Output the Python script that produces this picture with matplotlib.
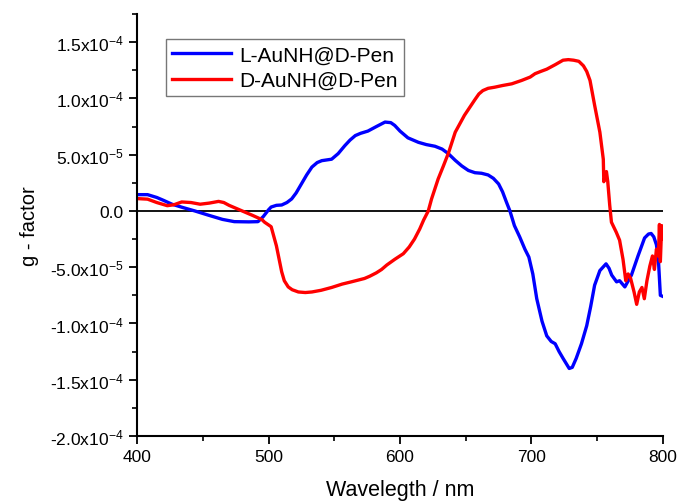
import numpy as np
import matplotlib
matplotlib.use("Agg")
import matplotlib.pyplot as plt
from matplotlib.ticker import MultipleLocator, FixedLocator

plt.rcParams['font.family'] = ['Liberation Sans', 'DejaVu Sans']
plt.rcParams['mathtext.fontset'] = 'custom'
plt.rcParams['mathtext.rm'] = 'Liberation Sans'
plt.rcParams['mathtext.it'] = 'Liberation Sans'

# L-AuNH@D-Pen (blue), g-factor in units of 1e-5
wl_L = [400, 408, 415, 420, 426.6, 435, 444, 455, 465, 474, 485, 492, 496, 500,
        502, 506, 510, 514, 517.6, 521, 525, 529, 533, 537, 540.5, 548, 553, 558,
        562, 566, 570, 575.6, 582, 588.6, 593, 596, 600, 603, 606, 610, 614, 620,
        626.6, 632, 636.7, 642, 647, 652, 657, 662, 667, 671, 675, 678, 681,
        683.6, 687, 691, 695, 698, 701, 704, 708, 711.6, 715, 718, 721, 724, 728.7,
        731, 734, 738, 742, 745, 748, 752, 756.7, 759, 761, 764.7, 767, 771,
        776, 781, 786, 789, 791, 793, 795, 796.5, 798, 800]
g_L = [1.45, 1.45, 1.2, 0.95, 0.6, 0.3, 0.0, -0.4, -0.75, -0.95, -0.97, -0.95, -0.5, 0.1,
       0.35, 0.5, 0.53, 0.75, 1.07, 1.6, 2.4, 3.2, 3.9, 4.3, 4.47, 4.6, 5.1, 5.8,
       6.3, 6.7, 6.9, 7.1, 7.5, 7.9, 7.85, 7.6, 7.1, 6.8, 6.5, 6.3, 6.1, 5.9,
       5.75, 5.5, 5.1, 4.5, 4.0, 3.6, 3.4, 3.35, 3.2, 2.9, 2.4, 1.7, 0.77,
       0.0, -1.3, -2.3, -3.4, -4.1, -5.6, -7.8, -9.8, -11.1, -11.6, -11.8, -12.5, -13.1, -14.0,
       -13.9, -13.1, -11.8, -10.2, -8.5, -6.6, -5.3, -4.7, -5.1, -5.7, -6.3, -6.2, -6.75,
       -5.7, -4.0, -2.4, -2.05, -2.0, -2.3, -3.0, -4.3, -7.5, -7.6]

# D-AuNH@D-Pen (red), g-factor in units of 1e-5
wl_D = [400, 408, 415, 423, 428, 434, 441, 448, 455, 462, 466, 470, 475, 480, 488,
        495, 497, 502, 506, 510, 512, 515, 518, 522.7, 528, 533, 540, 548, 556,
        563, 568, 573, 577, 582, 586, 590, 596, 602.5, 607, 611, 615, 618, 621.5,
        624, 629, 633, 637, 642, 649, 653, 657, 660, 663, 667, 672, 678, 685,
        692.5, 699, 702.7, 707, 711.6, 718, 724, 728, 732, 736, 739.5, 742, 744.5,
        748, 752, 754.6, 755, 757, 758, 759.5, 760.8, 764.5, 767, 769.6, 771.7,
        773.5, 775.4, 778, 780, 782, 784, 785.8, 787.8, 790, 792, 793.5, 795,
        796.5, 797.3, 798, 799, 800]
g_D = [1.1, 1.05, 0.75, 0.47, 0.55, 0.8, 0.75, 0.6, 0.7, 0.85, 0.75, 0.5, 0.25, 0.0, -0.4,
       -0.77, -1.0, -1.4, -3.1, -5.4, -6.2, -6.75, -7.0, -7.2, -7.25, -7.2, -7.05, -6.8, -6.5,
       -6.3, -6.15, -6.0, -5.8, -5.5, -5.2, -4.8, -4.3, -3.8, -3.2, -2.5, -1.6, -0.8, 0.0,
       1.07, 2.84, 4.0, 5.2, 7.0, 8.5, 9.2, 9.9, 10.4, 10.7, 10.9, 11.0, 11.15, 11.3,
       11.6, 11.9, 12.2, 12.4, 12.6, 13.0, 13.4, 13.45, 13.4, 13.3, 12.9, 12.4, 11.6,
       9.4, 7.0, 4.6, 2.6, 3.5, 2.6, 0.5, -1.0, -1.9, -2.6, -4.3, -6.2,
       -5.6, -6.0, -7.2, -8.3, -7.2, -6.8, -7.8, -6.2, -4.9, -4.0, -5.2, -3.4,
       -4.0, -1.2, -4.5, -1.3, -2.5]

ytick_vals = [-2.0e-4, -1.5e-4, -1.0e-4, -5.0e-5, 0.0, 5.0e-5, 1.0e-4, 1.5e-4]
ytick_labels = [r'-2.0x10$^{-4}$', r'-1.5x10$^{-4}$', r'-1.0x10$^{-4}$', r'-5.0x10$^{-5}$',
                '0.0', r'5.0x10$^{-5}$', r'1.0x10$^{-4}$', r'1.5x10$^{-4}$']

fig = plt.figure(figsize=(6.77, 5.02), dpi=100)
ax = fig.add_axes([0.2024, 0.1295, 0.7769, 0.8405])

ax.axhline(0, color='black', lw=1.3, zorder=1)
ax.plot(wl_L, np.array(g_L) * 1e-5, color='#0000ff', lw=2.4,
        solid_joinstyle='round', label='L-AuNH@D-Pen')
ax.plot(wl_D, np.array(g_D) * 1e-5, color='#ff0000', lw=2.4,
        solid_joinstyle='round', label='D-AuNH@D-Pen')

ax.set_xlim(400, 800)
ax.set_ylim(-2.0e-4, 1.75e-4)
ax.xaxis.set_major_locator(MultipleLocator(100))
ax.xaxis.set_minor_locator(MultipleLocator(50))
ax.yaxis.set_major_locator(FixedLocator(ytick_vals))
ax.set_yticklabels(ytick_labels)
ax.yaxis.set_minor_locator(MultipleLocator(2.5e-5))

for s in ['top', 'right']:
    ax.spines[s].set_visible(False)
for s in ['left', 'bottom']:
    ax.spines[s].set_linewidth(1.5)
ax.tick_params(which='major', direction='out', length=6, width=1.3, labelsize=12.5)
ax.tick_params(which='minor', direction='out', length=3.5, width=1.2)

ax.set_xlabel('Wavelegth / nm', fontsize=15.5, labelpad=11)
ax.set_ylabel('g - factor', fontsize=14.5, labelpad=8)

leg = ax.legend(loc='upper left', bbox_to_anchor=(0.055, 0.94), fontsize=15,
                frameon=True, fancybox=False, edgecolor='#555555', handlelength=2.8,
                borderpad=0.3, labelspacing=0.3, handletextpad=0.4, borderaxespad=0)
leg.get_frame().set_linewidth(1.0)

fig.savefig('out.png', dpi=100)
